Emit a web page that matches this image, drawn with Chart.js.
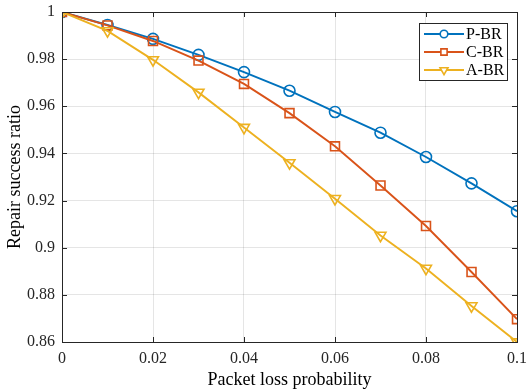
<!DOCTYPE html>
<html>
<head>
<meta charset="utf-8">
<script src="https://cdn.jsdelivr.net/npm/chart.js@4/dist/chart.umd.min.js"></script>
<style>
  html, body { margin: 0; padding: 0; background: #fff; }
  #wrap { width: 527px; height: 391px; }
</style>
</head>
<body>
<div id="wrap"><canvas id="chart" width="527" height="391"></canvas></div>
<script>
// Data
const lossProb = [0, 0.01, 0.02, 0.03, 0.04, 0.05, 0.06, 0.07, 0.08, 0.09, 0.1];
const pbr = [1.0, 0.9945, 0.9886, 0.9818, 0.9745, 0.9666, 0.9576, 0.9488, 0.9385, 0.9273, 0.9155];
const cbr = [1.0, 0.9943, 0.9877, 0.9794, 0.9695, 0.9571, 0.9430, 0.9264, 0.9092, 0.8897, 0.8697];
const abr = [1.0, 0.9920, 0.9797, 0.9659, 0.9510, 0.9360, 0.9208, 0.9052, 0.8912, 0.8753, 0.8600];

const seriesNames = ["P-BR", "C-BR", "A-BR"];

const xTicks = [0, 0.02, 0.04, 0.06, 0.08, 0.1];
const xTickLabels = ["0", "0.02", "0.04", "0.06", "0.08", "0.1"];
const yTicks = [0.86, 0.88, 0.9, 0.92, 0.94, 0.96, 0.98, 1];
const yTickLabels = ["0.86", "0.88", "0.9", "0.92", "0.94", "0.96", "0.98", "1"];

const FONT = "'Liberation Serif', 'Times New Roman', serif";
const AXIS = "#262626";
const colors = ["#0072BD", "#D95319", "#EDB120"];

const toPoints = (ys) => ys.map((y, i) => ({ x: lossProb[i], y }));

const datasets = [
  { label: seriesNames[0], data: toPoints(pbr), pointStyle: "circle", pointRadius: 5.5, pointRotation: 0, order: 3 },
  { label: seriesNames[1], data: toPoints(cbr), pointStyle: "rect", pointRadius: 6.3, pointRotation: 0, order: 2 },
  { label: seriesNames[2], data: toPoints(abr), pointStyle: "triangle", pointRadius: 6.3, pointRotation: 180, order: 1 },
].map((d, i) => ({
  ...d,
  borderColor: colors[i],
  backgroundColor: "transparent",
  pointBorderColor: colors[i],
  pointBackgroundColor: "transparent",
  pointBorderWidth: 1.6,
  borderWidth: 1.9,
  tension: 0,
  fill: false,
}));

// legend marker sizes are smaller than the plot markers
const legendRadius = [3.8, 4.4, 4.6];

// Box around the axes with inward tick marks (MATLAB look) + boxed legend
const boxPlugin = {
  id: "box",
  afterDatasetsDraw(chart) {
    const { ctx, chartArea: a, scales } = chart;
    ctx.save();
    ctx.strokeStyle = AXIS;
    ctx.lineWidth = 1;
    ctx.strokeRect(a.left + 0.5, a.top + 0.5, a.right - a.left, a.bottom - a.top);
    const len = 5;
    ctx.beginPath();
    scales.x.ticks.forEach((t) => {
      const px = Math.round(scales.x.getPixelForValue(t.value)) + 0.5;
      ctx.moveTo(px, a.bottom); ctx.lineTo(px, a.bottom - len);
      ctx.moveTo(px, a.top); ctx.lineTo(px, a.top + len);
    });
    scales.y.ticks.forEach((t) => {
      const py = Math.round(scales.y.getPixelForValue(t.value)) + 0.5;
      ctx.moveTo(a.left, py); ctx.lineTo(a.left + len, py);
      ctx.moveTo(a.right, py); ctx.lineTo(a.right - len, py);
    });
    ctx.stroke();
    ctx.restore();
  },
  afterDraw(chart) {
    const { ctx, chartArea: a } = chart;
    const w = 88, h = 57;
    const left = a.right - 10 - w, top = a.top + 11;
    ctx.save();
    ctx.fillStyle = "#fff";
    ctx.fillRect(left, top, w, h);
    ctx.strokeStyle = AXIS;
    ctx.lineWidth = 1;
    ctx.strokeRect(left + 0.5, top + 0.5, w, h);
    ctx.font = "16px " + FONT;
    ctx.textBaseline = "middle";
    chart.data.datasets.forEach((ds, i) => {
      const y = top + 11 + i * 18;
      ctx.strokeStyle = ds.borderColor;
      ctx.lineWidth = ds.borderWidth;
      ctx.beginPath();
      ctx.moveTo(left + 5, y); ctx.lineTo(left + 45, y);
      ctx.stroke();
      ctx.lineWidth = ds.pointBorderWidth;
      ctx.fillStyle = "#fff";
      Chart.helpers.drawPoint(ctx, {
        pointStyle: ds.pointStyle,
        radius: legendRadius[i],
        rotation: ds.pointRotation,
        borderWidth: ds.pointBorderWidth,
      }, left + 25, y);
      ctx.fillStyle = "#000";
      ctx.fillText(ds.label, left + 47, y + 1);
    });
    ctx.restore();
  },
};

new Chart(document.getElementById("chart"), {
  type: "line",
  data: { datasets },
  options: {
    responsive: false,
    animation: false,
    layout: { padding: { top: 12, right: 10, left: 0, bottom: 0 } },
    plugins: { legend: { display: false }, tooltip: { enabled: false } },
    scales: {
      x: {
        type: "linear",
        min: 0,
        max: 0.1,
        afterBuildTicks: (s) => { s.ticks = xTicks.map((v) => ({ value: v })); },
        afterFit: (s) => { s.height = 49; s.paddingLeft = 0; s.paddingRight = 0; },
        ticks: {
          callback: (v, i) => xTickLabels[i],
          font: { family: FONT, size: 16 },
          color: AXIS,
          maxRotation: 0,
          padding: 7,
        },
        grid: { color: "rgba(0,0,0,0.1)", drawTicks: false },
        border: { color: AXIS },
        title: {
          display: true,
          text: "Packet loss probability",
          font: { family: FONT, size: 18 },
          color: "#000",
          padding: { top: 0, bottom: 0 },
        },
      },
      y: {
        type: "linear",
        min: 0.86,
        max: 1,
        afterBuildTicks: (s) => { s.ticks = yTicks.map((v) => ({ value: v })); },
        afterFit: (s) => { s.width = 62; s.paddingTop = 0; s.paddingBottom = 0; },
        ticks: {
          callback: (v, i) => yTickLabels[i],
          font: { family: FONT, size: 16 },
          color: AXIS,
          padding: 7,
        },
        grid: { color: "rgba(0,0,0,0.1)", drawTicks: false },
        border: { color: AXIS },
        title: {
          display: true,
          text: "Repair success ratio",
          font: { family: FONT, size: 18 },
          color: "#000",
          padding: { top: 4, bottom: 0 },
        },
      },
    },
  },
  plugins: [boxPlugin],
});
</script>
</body>
</html>
